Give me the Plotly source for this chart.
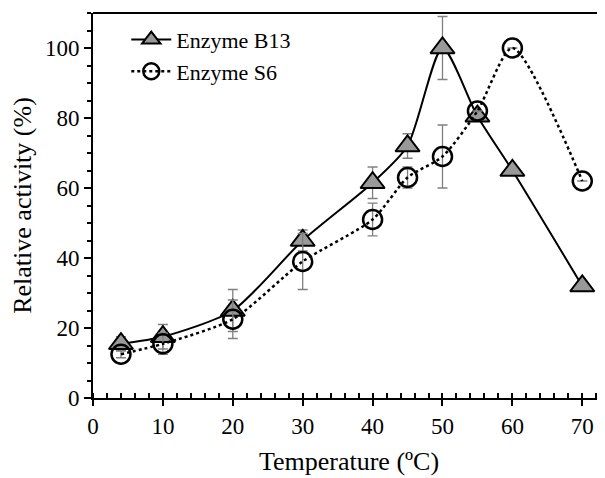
import plotly.graph_objects as go

temps = [4, 10, 20, 30, 40, 45, 50, 55, 60, 70]
b13 = [15.5, 17.5, 25, 45, 61.5, 72, 100, 80.5, 65, 32]
b13_err = [2, 3.5, 6, 3, 4.5, 3.5, 9, 0, 0, 0]
s6 = [12.5, 15.5, 22.5, 39, 51, 63, 69, 82, 100, 62]
s6_err = [1, 3, 5.5, 8, 4.7, 3, 9, 0, 0, 0]

font_family = "Liberation Serif"

fig = go.Figure()
fig.add_trace(go.Scatter(
    x=temps, y=b13, name="Enzyme B13", mode="lines+markers",
    line=dict(color="black", width=2, shape="spline", smoothing=0.7),
    marker=dict(symbol="triangle-up", size=21, color="#999999",
                line=dict(color="black", width=2)),
    error_y=dict(type="data", array=b13_err, visible=True, color="#808080",
                 thickness=1.3, width=5),
))
fig.add_trace(go.Scatter(
    x=temps, y=s6, name="Enzyme S6", mode="lines+markers",
    line=dict(color="black", width=2.5, dash="dot", shape="spline", smoothing=0.7),
    marker=dict(symbol="circle", size=19, color="rgba(255,255,255,0)",
                line=dict(color="black", width=2.5)),
    error_y=dict(type="data", array=s6_err, visible=True, color="#808080",
                 thickness=1.3, width=5),
))

fig.update_layout(
    width=605, height=478,
    margin=dict(l=85, r=8, t=5, b=88),
    plot_bgcolor="white", paper_bgcolor="white",
    font=dict(family=font_family, size=23, color="black"),
    showlegend=True,
    legend=dict(x=0.065, y=0.985, xanchor="left", yanchor="top",
                bgcolor="rgba(0,0,0,0)", font=dict(size=22),
                tracegroupgap=0, itemwidth=40),
    xaxis=dict(
        range=[0, 73.25], tickvals=[0, 10, 20, 30, 40, 50, 60, 70],
        showgrid=False, zeroline=False, showline=True, linecolor="black",
        linewidth=2, mirror=False, ticks="outside", ticklen=6, tickwidth=2,
        tickcolor="black", tickfont=dict(size=23),
        minor=dict(dtick=2, tick0=0, ticks="inside", ticklen=5, tickwidth=1.5,
                   tickcolor="black"),
        title=dict(text="Temperature (ºC)", font=dict(size=26), standoff=14),
    ),
    yaxis=dict(
        range=[0, 110], tickvals=[0, 20, 40, 60, 80, 100],
        showgrid=False, zeroline=False, showline=True, linecolor="black",
        linewidth=2, ticks="outside", ticklen=7, tickwidth=2, tickcolor="black",
        tickfont=dict(size=23),
        minor=dict(dtick=5, tick0=0, ticks="outside", ticklen=4, tickwidth=1.5,
                   tickcolor="black"),
        title=dict(text="Relative activity (%)", font=dict(size=26), standoff=8),
    ),
    shapes=[dict(type="line", xref="paper", yref="paper", x0=0, x1=1, y0=1, y1=1,
                 line=dict(color="black", width=2))],
)

fig.write_html("out.html")
